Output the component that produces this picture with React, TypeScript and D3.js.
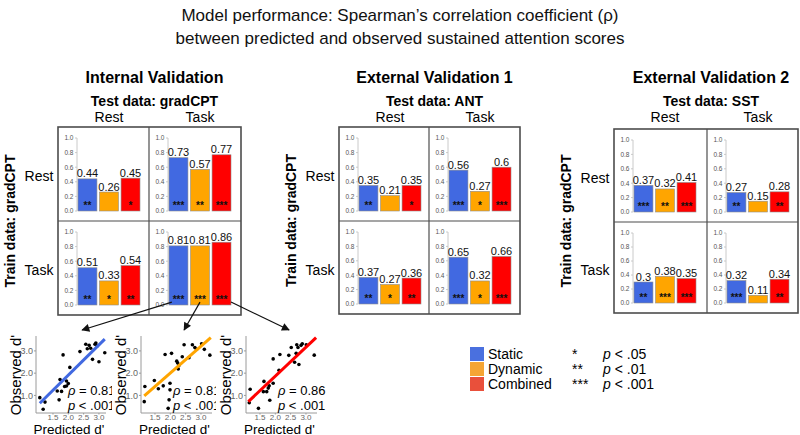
import React from "react";
import * as d3 from "d3";

const FONT = "'Liberation Sans', Arial, Helvetica, sans-serif";

// ---------- text ----------
const titleLines = [
  "Model performance: Spearman\u2019s correlation coefficient (\u03C1)",
  "between predicted and observed sustained attention scores",
];
const panelTitles = ["Internal Validation", "External Validation 1", "External Validation 2"];
const testDatasets = ["gradCPT", "ANT", "SST"];
const trainDataset = "gradCPT";
const conditions = ["Rest", "Task"];

// ---------- bar data ----------
const models = ["Static", "Dynamic", "Combined"];
const modelColors = ["#4169E1", "#FFA500", "#FF0000"];
const legendColors = ["#4a70df", "#f5a534", "#e9503b"];
const barYTicks = [0, 0.2, 0.4, 0.6, 0.8, 1.0];

// [train condition][test condition][model]
const internalRho = [
  [[0.44, 0.26, 0.45], [0.73, 0.57, 0.77]],
  [[0.51, 0.33, 0.54], [0.81, 0.81, 0.86]],
];
const internalStars = [
  [[2, 0, 1], [3, 2, 3]],
  [[2, 1, 2], [3, 3, 3]],
];
const ext1Rho = [
  [[0.35, 0.21, 0.35], [0.56, 0.27, 0.6]],
  [[0.37, 0.27, 0.36], [0.65, 0.32, 0.66]],
];
const ext1Stars = [
  [[2, 0, 1], [3, 1, 3]],
  [[2, 1, 2], [3, 1, 3]],
];
const ext2Rho = [
  [[0.37, 0.32, 0.41], [0.27, 0.15, 0.28]],
  [[0.3, 0.38, 0.35], [0.32, 0.11, 0.34]],
];
const ext2Stars = [
  [[3, 2, 3], [2, 0, 2]],
  [[2, 3, 3], [3, 0, 2]],
];

const sigStars = ["*", "**", "***"];
const sigLabels = ["< .05", "< .01", "< .001"];

// ---------- scatter data: [predicted d', observed d'] ----------
const staticPoints: [number, number][] = [
  [1.07, 0.9], [1.24, 0.7], [1.18, 0.38], [1.83, 2.82], [2.38, 2.97], [2.57, 3.3],
  [2.68, 3.25], [2.73, 3.12], [2.87, 3.3], [2.94, 3.22], [3.19, 2.92], [2.79, 2.62],
  [3.0, 2.51], [2.05, 2.26], [1.73, 1.71], [1.94, 1.65], [2.0, 1.53], [1.94, 1.42],
  [1.88, 1.4], [1.64, 1.2], [1.78, 1.18], [1.7, 0.8], [2.62, 3.1], [2.9, 3.35],
];
const dynamicPoints: [number, number][] = [
  [1.17, 1.4], [1.15, 0.72], [1.48, 1.67], [1.61, 1.3], [1.77, 1.43], [1.83, 2.84],
  [2.04, 2.89], [1.99, 1.55], [1.96, 0.8], [1.93, 0.42], [2.21, 2.54], [2.24, 2.46],
  [2.26, 2.19], [2.28, 2.34], [2.39, 2.74], [2.45, 3.28], [2.61, 2.69], [2.72, 3.28],
  [2.8, 3.15], [2.86, 3.07], [3.02, 3.32], [3.11, 3.07], [3.29, 2.81], [1.99, 1.25],
];
const combinedPoints: [number, number][] = [
  [1.18, 1.28], [1.15, 0.67], [1.45, 0.42], [1.63, 1.63], [1.61, 1.17], [1.72, 1.17],
  [1.77, 1.33], [1.8, 1.43], [1.93, 1.55], [1.82, 0.78], [1.93, 2.64], [2.15, 2.84],
  [2.12, 2.13], [2.44, 2.8], [2.52, 3.15], [2.63, 2.49], [2.7, 3.28], [2.74, 3.15],
  [2.77, 2.39], [2.84, 3.25], [2.88, 3.32], [2.68, 2.89], [3.01, 3.28], [3.27, 2.81],
];
// fitted line end points [x0, y0, x1, y1]
const fitLines = [
  [1.07, 0.65, 3.19, 3.53],
  [1.15, 0.98, 3.32, 3.6],
  [1.12, 0.72, 3.33, 3.6],
];
const scatterRho = ["0.81", "0.81", "0.86"];
const scatterP = "< .001";
const scatterXTicks = [1.5, 2.0, 2.5, 3.0];
const scatterYTicks = [1.0, 2.0, 3.0];
const scatterXDomains = [[0.946, 3.23], [1.044, 3.36], [1.044, 3.36]];
const scatterYDomain = [0.21, 3.67];

// ---------- layout ----------
const panelBoxes = [
  { x0: 58, x1: 241, y0: 127, y1: 315, xm: 149, ym: 221 },
  { x0: 339, x1: 520, y0: 127, y1: 314, xm: 429, ym: 221 },
  { x0: 614, x1: 798, y0: 129, y1: 313, xm: 707, ym: 222 },
];
const panelRho = [internalRho, ext1Rho, ext2Rho];
const panelStars = [internalStars, ext1Stars, ext2Stars];
const scatterFrames = [
  { axisX: 36, right: 106, clipL: 0, clipR: 112 },
  { axisX: 141, right: 212, clipL: 112, clipR: 216 },
  { axisX: 246, right: 317, clipL: 216, clipR: 330 },
];
const scatterSets = [staticPoints, dynamicPoints, combinedPoints];

function cellScales(L: number, T: number, B: number) {
  const y = d3.scaleLinear().domain([0, 1]).range([B - 10, T + 11]);
  const x = d3.scaleBand<string>().domain(models).range([L + 20, L + 82]).paddingInner(0.12);
  return { x, y };
}

function BarCell({ L, T, B, values, stars }: { L: number; T: number; B: number; values: number[]; stars: number[] }) {
  const { x, y } = cellScales(L, T, B);
  const bw = x.bandwidth();
  const ax = L + 19;
  return (
    <g>
      <line x1={ax} x2={ax} y1={y(0)} y2={y(1)} stroke="#c4c4c4" strokeWidth={0.9} />
      {barYTicks.map((t) => (
        <g key={t}>
          <line x1={ax - 2} x2={ax} y1={y(t)} y2={y(t)} stroke="#c4c4c4" strokeWidth={0.9} />
          <text x={ax - 3.5} y={y(t) + 2.3} fontSize={6.5} textAnchor="end" fill="#555">
            {d3.format(".1f")(t)}
          </text>
        </g>
      ))}
      {models.map((m, i) => {
        const bx = x(m) as number;
        return (
          <g key={m}>
            <rect x={bx} y={y(values[i])} width={bw} height={y(0) - y(values[i])} fill={modelColors[i]} stroke="#8c8c8c" strokeWidth={0.6} />
            <text x={bx + bw / 2} y={y(values[i]) - 1.5} fontSize={11} textAnchor="middle" fill="#111">
              {String(values[i])}
            </text>
            {stars[i] > 0 && (
              <text x={bx + bw / 2} y={y(0.1) + 5} fontSize={10} fontWeight="bold" textAnchor="middle" fill="#111">
                {"*".repeat(stars[i])}
              </text>
            )}
          </g>
        );
      })}
    </g>
  );
}

function Panel({ idx }: { idx: number }) {
  const b = panelBoxes[idx];
  const rho = panelRho[idx];
  const st = panelStars[idx];
  const cx = (b.x0 + b.x1) / 2 + 5;
  const colL = [b.x0, b.xm];
  const rowT = [b.y0, b.ym];
  const rowB = [b.ym, b.y1];
  return (
    <g>
      <text x={cx} y={83} fontSize={16} fontWeight="bold" textAnchor="middle">{panelTitles[idx]}</text>
      <text x={cx} y={106} fontSize={14} fontWeight="bold" textAnchor="middle">{`Test data: ${testDatasets[idx]}`}</text>
      {conditions.map((c, j) => (
        <text key={c} x={colL[j] + 51} y={122} fontSize={14} textAnchor="middle">{c}</text>
      ))}
      {conditions.map((c, r) => (
        <text key={c} x={b.x0 - 19} y={(rowT[r] + rowB[r]) / 2 + 7} fontSize={14} textAnchor="middle">{c}</text>
      ))}
      <text transform={`translate(${b.x0 - 43},${(b.y0 + b.y1) / 2}) rotate(-90)`} fontSize={14} fontWeight="bold" textAnchor="middle">
        {`Train data: ${trainDataset}`}
      </text>
      {conditions.map((_, r) =>
        conditions.map((__, c) => (
          <BarCell key={`${r}-${c}`} L={colL[c]} T={rowT[r]} B={rowB[r]} values={rho[r][c]} stars={st[r][c]} />
        ))
      )}
      <rect x={b.x0} y={b.y0} width={b.x1 - b.x0} height={b.y1 - b.y0} fill="none" stroke="#4d4d4d" strokeWidth={1.6} />
      <line x1={b.xm} x2={b.xm} y1={b.y0} y2={b.y1} stroke="#4d4d4d" strokeWidth={1.2} />
      <line x1={b.x0} x2={b.x1} y1={b.ym} y2={b.ym} stroke="#4d4d4d" strokeWidth={1.2} />
    </g>
  );
}

function scatterScales(i: number) {
  const f = scatterFrames[i];
  const x = d3.scaleLinear().domain(scatterXDomains[i]).range([f.axisX, f.right]);
  const y = d3.scaleLinear().domain(scatterYDomain).range([413, 336]);
  return { x, y };
}

function Scatter({ i }: { i: number }) {
  const f = scatterFrames[i];
  const { x, y } = scatterScales(i);
  const fl = fitLines[i];
  const line = d3.line<[number, number]>().x((d) => x(d[0])).y((d) => y(d[1]));
  return (
    <g clipPath={`url(#sclip${i})`}>
      <rect x={f.clipL} y={320} width={f.clipR - f.clipL} height={115} fill="#fff" />
      <line x1={f.axisX} x2={f.axisX} y1={y.range()[0]} y2={y.range()[1]} stroke="#9a9a9a" strokeWidth={1} />
      <line x1={f.axisX} x2={f.right} y1={y.range()[0]} y2={y.range()[0]} stroke="#9a9a9a" strokeWidth={1} />
      {scatterYTicks.map((t) => (
        <g key={t}>
          <line x1={f.axisX - 2} x2={f.axisX} y1={y(t)} y2={y(t)} stroke="#9a9a9a" />
          <text x={f.axisX - 3} y={y(t) + 3.2} fontSize={9} textAnchor="end" fill="#666">{d3.format(".1f")(t)}</text>
        </g>
      ))}
      {scatterXTicks.map((t) => (
        <g key={t}>
          <line x1={x(t)} x2={x(t)} y1={413} y2={414.5} stroke="#9a9a9a" />
          <text x={x(t)} y={419.8} fontSize={8} textAnchor="middle" fill="#666">{d3.format(".1f")(t)}</text>
        </g>
      ))}
      {scatterSets[i].map((d, k) => (
        <circle key={k} cx={x(d[0])} cy={y(d[1])} r={1.8} fill="#000" />
      ))}
      <path d={line([[fl[0], fl[1]], [fl[2], fl[3]]]) || ""} stroke={modelColors[i]} strokeWidth={3} fill="none" />
      <text x={f.axisX + 32} y={395} fontSize={13}>
        <tspan fontStyle="italic">{"\u03C1"}</tspan>{` = ${scatterRho[i]}`}
      </text>
      <text x={f.axisX + 32} y={410} fontSize={13}>
        <tspan fontStyle="italic">p</tspan>{` ${scatterP}`}
      </text>
      <text transform={`translate(${f.axisX - 15},${375}) rotate(-90)`} fontSize={15} textAnchor="middle">Observed d'</text>
      <text x={(f.axisX + f.right) / 2 - 2} y={433.5} fontSize={13.5} textAnchor="middle">Predicted d'</text>
    </g>
  );
}

function Arrows() {
  const b = panelBoxes[0];
  const { x, y } = cellScales(b.xm, b.ym, b.y1);
  const fracs = [0.15, 0.5, 1.0];
  return (
    <g>
      {models.map((m, i) => {
        const sx = (x(m) as number) + x.bandwidth() * fracs[i];
        const sy = y(0.04);
        const s = scatterScales(i);
        const ex = s.x(2.45);
        const ey = s.y.range()[1] - 6;
        return <line key={m} x1={sx} y1={sy} x2={ex} y2={ey} stroke="#111" strokeWidth={1.2} markerEnd="url(#arrowHead)" />;
      })}
    </g>
  );
}

function Legend() {
  const ly = d3.scaleBand<string>().domain(models).range([347, 392]);
  return (
    <g>
      {models.map((m, i) => {
        const yy = ly(m) as number;
        return (
          <g key={m}>
            <rect x={470} y={yy} width={14} height={14} fill={legendColors[i]} />
            <text x={488} y={yy + 12} fontSize={14}>{m}</text>
            <text x={572} y={yy + 12} fontSize={14}>{sigStars[i]}</text>
            <text x={603} y={yy + 12} fontSize={14}>
              <tspan fontStyle="italic">p</tspan>{` ${sigLabels[i]}`}
            </text>
          </g>
        );
      })}
    </g>
  );
}

export default function App() {
  return (
    <div style={{ position: "absolute", left: 0, top: 0 }}>
      <svg width={800} height={435} fontFamily={FONT} style={{ display: "block", background: "#fff" }}>
        <defs>
          <marker id="arrowHead" viewBox="0 0 10 10" refX={9} refY={5} markerWidth={9} markerHeight={8} markerUnits="userSpaceOnUse" orient="auto">
            <path d="M0,0 L10,5 L0,10 z" fill="#111" />
          </marker>
          {scatterFrames.map((f, i) => (
            <clipPath key={i} id={`sclip${i}`}>
              <rect x={f.clipL} y={320} width={f.clipR - f.clipL} height={115} />
            </clipPath>
          ))}
        </defs>
        {titleLines.map((t, i) => (
          <text key={i} x={400} y={21 + i * 23} fontSize={17} textAnchor="middle" fill="#111">{t}</text>
        ))}
        {panelBoxes.map((_, i) => <Panel key={i} idx={i} />)}
        {scatterFrames.map((_, i) => <Scatter key={i} i={i} />)}
        <Arrows />
        <Legend />
      </svg>
    </div>
  );
}
